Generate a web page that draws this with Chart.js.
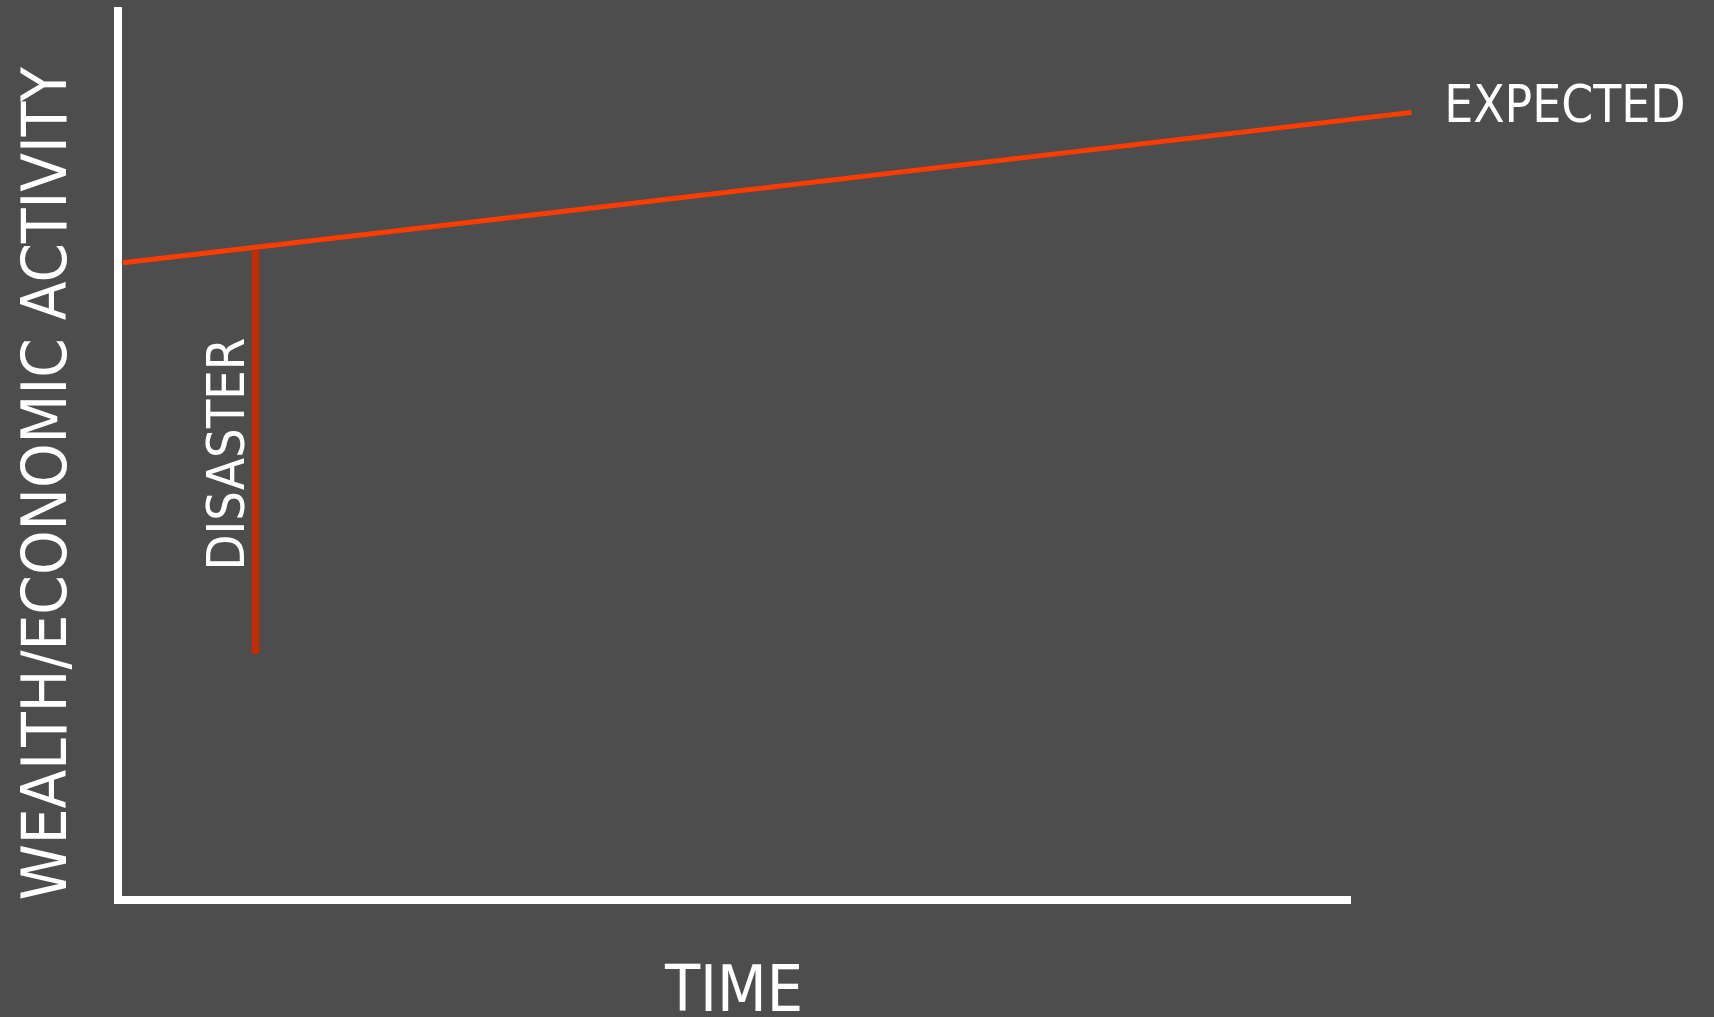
<!DOCTYPE html>
<html>
<head>
<meta charset="utf-8">
<script src="https://cdn.jsdelivr.net/npm/chart.js@4"></script>
<style>
  html, body { margin: 0; padding: 0; background: #4d4d4d; }
  #wrap { width: 1714px; height: 1017px; }
  canvas { display: block; }
</style>
</head>
<body>
<div id="wrap"><canvas id="c" width="1714" height="1017"></canvas></div>
<script>
// ---- data ----
const timeExpected = [0.4, 105.0];
const wealthExpected = [71.7, 88.6];
const timeDisaster = [11.16, 11.16];
const wealthDisaster = [73.05, 27.7];
const seriesLabels = ['EXPECTED', 'DISASTER'];
const xAxisTitle = 'TIME';
const yAxisTitle = 'WEALTH/ECONOMIC ACTIVITY';

const FONT = '"DejaVu Sans Condensed", "DejaVu Sans", sans-serif';

const toPoints = (xs, ys) => xs.map((x, i) => ({ x: x, y: ys[i] }));

const labelPlugin = {
  id: 'seriesLabels',
  afterDatasetsDraw(chart) {
    const ctx = chart.ctx;
    ctx.save();
    ctx.fillStyle = '#ffffff';
    ctx.textAlign = 'left';
    ctx.textBaseline = 'alphabetic';
    // EXPECTED label just past the end of the line
    const m0 = chart.getDatasetMeta(0).data;
    const end = m0[m0.length - 1];
    ctx.font = '51px ' + FONT;
    let m = ctx.measureText(seriesLabels[0]);
    ctx.fillText(seriesLabels[0], end.x + 36.6 + m.actualBoundingBoxLeft, end.y + 9.4);
    // DISASTER label, rotated, beside the drop
    const m1 = chart.getDatasetMeta(1).data;
    const midY = (m1[0].y + m1[1].y) / 2;
    ctx.translate(m1[0].x - 11, midY);
    ctx.rotate(-Math.PI / 2);
    ctx.font = '52px ' + FONT;
    m = ctx.measureText(seriesLabels[1]);
    const inkW = m.actualBoundingBoxLeft + m.actualBoundingBoxRight;
    ctx.fillText(seriesLabels[1], -inkW / 2 + m.actualBoundingBoxLeft, 0);
    ctx.restore();
  }
};

new Chart(document.getElementById('c'), {
  type: 'line',
  data: {
    datasets: [
      {
        label: seriesLabels[0],
        data: toPoints(timeExpected, wealthExpected),
        borderColor: '#ff3c00',
        borderWidth: 5,
        borderCapStyle: 'butt',
        pointRadius: 0,
        clip: false,
        tension: 0
      },
      {
        label: seriesLabels[1],
        data: toPoints(timeDisaster, wealthDisaster),
        borderColor: '#c22c00',
        borderWidth: 7.5,
        borderCapStyle: 'butt',
        pointRadius: 0,
        clip: false,
        tension: 0
      }
    ]
  },
  options: {
    responsive: false,
    animation: false,
    devicePixelRatio: 1,
    layout: { padding: { top: 11, right: 364, bottom: 0, left: 0 } },
    plugins: { legend: { display: false }, tooltip: { enabled: false } },
    scales: {
      x: {
        type: 'linear',
        min: 0, max: 100,
        grid: { display: false },
        border: { display: true, color: '#ffffff', width: 8 },
        ticks: { display: false },
        title: {
          display: true, text: xAxisTitle, color: '#ffffff',
          font: { family: FONT, size: 64, lineHeight: 0.8 },
          padding: { top: 0, bottom: -2.5 }
        },
        afterFit: (s) => { s.height = 116.7; }
      },
      y: {
        type: 'linear',
        min: 0, max: 100,
        grid: { display: false },
        border: { display: true, color: '#ffffff', width: 8 },
        ticks: { display: false },
        title: {
          display: true, text: yAxisTitle, color: '#ffffff', align: 'start',
          font: { family: FONT, size: 63, lineHeight: 1 },
          padding: { top: 18.5, bottom: 0 }
        },
        afterFit: (s) => { s.width = 118; }
      }
    }
  },
  plugins: [labelPlugin]
});
</script>
</body>
</html>
